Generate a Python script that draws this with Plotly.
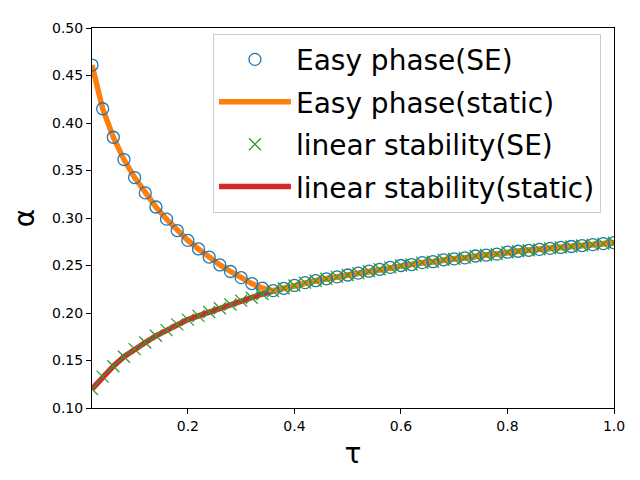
import plotly.graph_objects as go

# tau grid, step 0.02
tau = [round(0.02 * k, 2) for k in range(1, 51)]

# easy phase (SE) values
alpha_easy = [
    0.461, 0.415, 0.385, 0.3615, 0.3426, 0.3264, 0.3116, 0.2988, 0.2868, 0.2764,
    0.2674, 0.2589, 0.2506, 0.2437, 0.2372, 0.2310, 0.2261, 0.2235, 0.226, 0.229,
    0.232, 0.234, 0.236, 0.238, 0.240, 0.242, 0.244, 0.246, 0.248, 0.250,
    0.251, 0.253, 0.254, 0.256, 0.257, 0.258, 0.260, 0.261, 0.262, 0.264,
    0.265, 0.266, 0.267, 0.268, 0.269, 0.270, 0.271, 0.272, 0.273, 0.274,
]

# linear stability (SE)
alpha_linear = [
    0.120, 0.133, 0.144, 0.154, 0.162, 0.169, 0.176, 0.182, 0.188, 0.193,
    0.197, 0.201, 0.205, 0.209, 0.213, 0.216, 0.220, 0.223, 0.226, 0.229,
    0.232, 0.234, 0.236, 0.238, 0.240, 0.242, 0.244, 0.246, 0.248, 0.250,
    0.251, 0.253, 0.254, 0.256, 0.257, 0.258, 0.260, 0.261, 0.262, 0.264,
    0.265, 0.266, 0.267, 0.268, 0.269, 0.270, 0.271, 0.272, 0.273, 0.274,
]

# static curves coincide with the SE points
alpha_easy_static = list(alpha_easy)
alpha_linear_static = list(alpha_linear)

x_ticks = [0.2, 0.4, 0.6, 0.8, 1.0]
y_ticks = [0.10, 0.15, 0.20, 0.25, 0.30, 0.35, 0.40, 0.45, 0.50]

fig = go.Figure()

# draw order: red, orange, circles, crosses; legend order set by legendrank
fig.add_trace(go.Scatter(
    x=tau, y=alpha_linear_static, mode="lines", name="linear stability(static)",
    line=dict(color="#d62728", width=5.5), legendrank=4, legendgroup="d",
))
fig.add_trace(go.Scatter(
    x=tau, y=alpha_easy_static, mode="lines", name="Easy phase(static)",
    line=dict(color="#ff7f0e", width=5.5), legendrank=2, legendgroup="b",
))
fig.add_trace(go.Scatter(
    x=tau, y=alpha_easy, mode="markers", name="Easy phase(SE)",
    marker=dict(symbol="circle-open", size=12, color="#1f77b4",
                line=dict(width=1.3, color="#1f77b4")),
    legendrank=1, legendgroup="a",
))
fig.add_trace(go.Scatter(
    x=tau, y=alpha_linear, mode="markers", name="linear stability(SE)",
    marker=dict(symbol="x-thin-open", size=12, color="#2ca02c",
                line=dict(width=1.3, color="#2ca02c")),
    legendrank=3, legendgroup="c",
))

axis_common = dict(
    showline=True, linecolor="black", linewidth=1, mirror=True,
    ticks="outside", ticklen=5, tickwidth=1, tickcolor="black",
    showgrid=False, zeroline=False,
    tickfont=dict(family="DejaVu Sans", size=14, color="black"),
)

# the page body has an 8px margin, so the margins are shifted by 8px
fig.update_layout(
    width=640, height=480,
    margin=dict(l=81, r=34, t=12, b=80),
    paper_bgcolor="white", plot_bgcolor="white",
    font=dict(family="DejaVu Sans", color="black"),
    xaxis=dict(range=[0.02, 1.0], tickvals=x_ticks,
               ticktext=[f"{v:.1f}" for v in x_ticks],
               title=dict(text="τ", font=dict(size=28), standoff=10),
               **axis_common),
    yaxis=dict(range=[0.1, 0.5], tickvals=y_ticks,
               ticktext=[f"{v:.2f}" for v in y_ticks],
               title=dict(text="α", font=dict(size=28), standoff=12),
               **axis_common),
    legend=dict(
        x=0.975, y=0.985, xanchor="right", yanchor="top",
        font=dict(size=28, color="black"),
        bgcolor="white", bordercolor="#cccccc", borderwidth=1,
        itemwidth=72, tracegroupgap=3,
    ),
    showlegend=True,
)

fig.write_html("out.html")
